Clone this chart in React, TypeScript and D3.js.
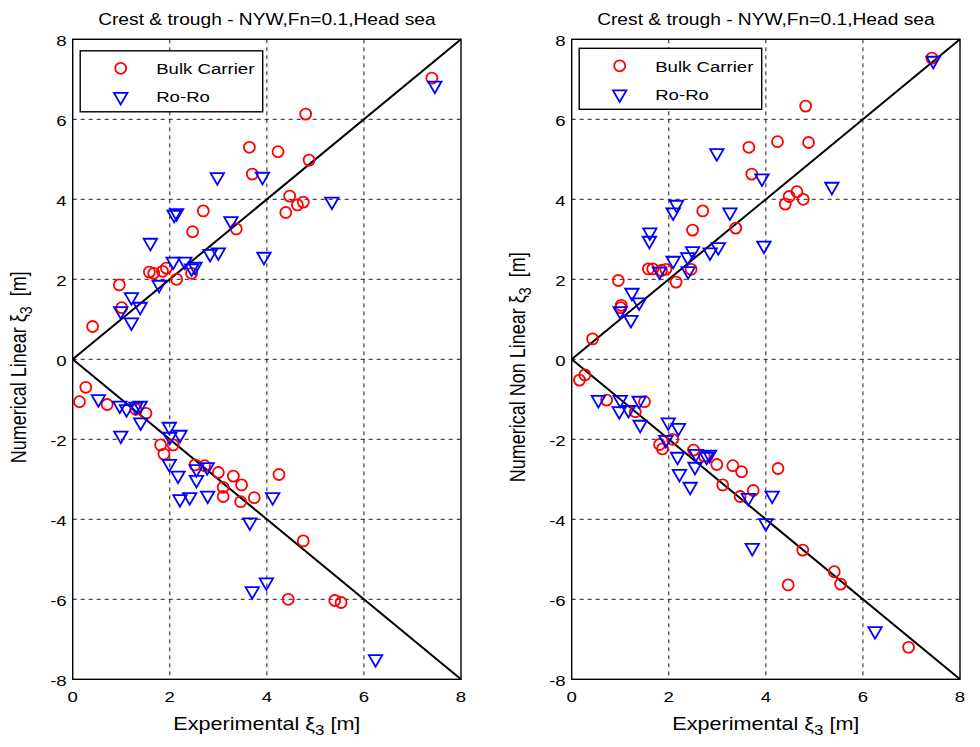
import React from 'react';
import * as d3 from 'd3';

const bulkLinear: [number, number][] = [
  [0.41, 0.82], [0.96, 1.86], [1.01, 1.29], [1.58, 2.18], [1.67, 2.15], [1.85, 2.2], [1.93, 2.28],
  [2.14, 2.0], [2.45, 2.15], [2.47, 3.19], [2.69, 3.71], [3.37, 3.26], [3.64, 5.3], [3.7, 4.63],
  [4.23, 5.19], [4.39, 3.67], [4.47, 4.08], [4.63, 3.86], [4.75, 3.93], [4.8, 6.13], [4.87, 4.98],
  [7.4, 7.03],
  [0.14, -1.06], [0.27, -0.7], [0.71, -1.13], [1.3, -1.25], [1.51, -1.35], [1.81, -2.14], [1.88, -2.37],
  [2.07, -2.14], [2.52, -2.64], [2.72, -2.66], [3.0, -2.83], [3.1, -3.2], [3.1, -3.43], [3.31, -2.92],
  [3.48, -3.14], [3.46, -3.56], [3.74, -3.46], [4.25, -2.88], [4.75, -4.54], [4.44, -6.0], [5.4, -6.03],
  [5.53, -6.08],
];

const roroLinear: [number, number][] = [
  [0.99, 1.22], [1.21, 1.57], [1.21, 0.94], [1.39, 1.33], [1.6, 2.93], [1.78, 1.88], [2.07, 2.46],
  [2.09, 3.63], [2.14, 3.67], [2.31, 2.46], [2.45, 2.29], [2.52, 2.33], [2.83, 2.65], [3.0, 2.69],
  [2.98, 4.57], [3.26, 3.47], [3.91, 4.58], [3.94, 2.58], [5.34, 3.96], [7.46, 6.86],
  [0.53, -0.98], [0.97, -1.14], [1.11, -1.23], [1.39, -1.14], [1.3, -1.17], [1.4, -1.56], [0.99, -1.89],
  [1.99, -1.67], [2.0, -1.92], [2.21, -1.87], [1.99, -2.6], [2.17, -2.89], [2.21, -3.48], [2.41, -3.43],
  [2.55, -3.0], [2.55, -2.73], [2.77, -2.68], [2.78, -3.39], [3.65, -4.06], [4.12, -3.43], [3.7, -5.78],
  [3.99, -5.56], [6.24, -7.48],
];

const bulkNonLinear: [number, number][] = [
  [0.43, 0.51], [0.96, 1.97], [1.02, 1.35], [1.01, 1.29], [1.58, 2.26], [1.67, 2.26], [1.85, 2.22],
  [1.94, 2.25], [2.15, 1.93], [2.46, 2.25], [2.49, 3.23], [2.7, 3.71], [3.38, 3.28], [3.65, 5.3],
  [3.71, 4.63], [4.24, 5.44], [4.4, 3.88], [4.48, 4.07], [4.64, 4.19], [4.77, 4.0], [4.82, 6.33],
  [4.88, 5.42], [7.42, 7.53],
  [0.16, -0.52], [0.27, -0.39], [0.72, -1.02], [1.31, -1.31], [1.5, -1.06], [1.81, -2.13], [1.87, -2.24],
  [2.08, -2.0], [2.51, -2.27], [2.73, -2.42], [2.99, -2.63], [3.32, -2.66], [3.5, -2.81], [3.11, -3.14],
  [3.47, -3.43], [3.74, -3.28], [4.25, -2.73], [4.76, -4.77], [4.46, -5.64], [5.41, -5.31], [5.54, -5.62],
  [6.94, -7.2],
];

const roroNonLinear: [number, number][] = [
  [1.0, 1.22], [1.24, 1.68], [1.22, 1.0], [1.39, 1.44], [1.61, 3.19], [1.6, 2.98], [1.81, 2.21],
  [2.09, 2.48], [2.16, 3.88], [2.09, 3.69], [2.39, 2.57], [2.4, 2.22], [2.49, 2.72], [2.85, 2.69],
  [3.02, 2.82], [2.99, 5.17], [3.26, 3.69], [3.92, 4.54], [3.96, 2.86], [5.36, 4.33], [7.45, 7.48],
  [0.55, -1.0], [1.0, -1.0], [0.98, -1.28], [1.17, -1.25], [1.39, -1.02], [1.41, -1.62], [1.99, -1.56],
  [2.2, -1.7], [1.94, -2.0], [2.18, -2.42], [2.22, -2.85], [2.44, -3.17], [2.54, -2.67], [2.56, -2.35],
  [2.78, -2.42], [2.84, -2.37], [3.64, -3.45], [4.13, -3.39], [4.0, -4.08], [3.72, -4.7], [6.25, -6.78],
];

const xTicks = [0, 2, 4, 6, 8];
const yTicks = [-8, -6, -4, -2, 0, 2, 4, 6, 8];
const refLines: [number, number][][] = [
  [[0, 0], [8, 8]],
  [[0, 0], [8, -8]],
];
const seriesNames = ['Bulk Carrier', 'Ro-Ro'];
const titleText = 'Crest & trough - NYW,Fn=0.1,Head sea';

const FONT = '"Liberation Sans", Arial, Helvetica, sans-serif';
const SX = 1.2; // the source figure is stretched horizontally, text included
const tri = d3.symbol(d3.symbolTriangle, 78)() as string;

const Circle = ({ x, y }: { x: number; y: number }) => (
  <circle cx={x} cy={y} r={5.5} fill="none" stroke="#ff0000" strokeWidth={1.8} />
);

const Tri = ({ x, y }: { x: number; y: number }) => (
  <path d={tri} transform={`translate(${x},${y + 0.5}) rotate(180)`} fill="none" stroke="#0000ff" strokeWidth={1.8} />
);

interface PanelProps {
  left: number;
  right: number;
  top: number;
  bottom: number;
  bulk: [number, number][];
  roro: [number, number][];
  yLabel: string;
  legendDy: number;
}

const Panel: React.FC<PanelProps> = ({ left, right, top, bottom, bulk, roro, yLabel, legendDy }) => {
  const x = d3.scaleLinear().domain([0, 8]).range([left, right]);
  const y = d3.scaleLinear().domain([-8, 8]).range([bottom, top]);
  const line = d3.line<[number, number]>().x((d) => x(d[0])).y((d) => y(d[1]));
  const cx = (left + right) / 2;
  const lx = left + 7.5;
  const ly = top + legendDy;

  return (
    <g fontFamily={FONT} fill="#000">
      <text transform={`translate(${cx},${top - 14}) scale(${SX},1)`} textAnchor="middle" fontSize={16}>
        {titleText}
      </text>

      {/* grid */}
      {xTicks.slice(1, -1).map((t) => (
        <line key={`gx${t}`} x1={x(t)} x2={x(t)} y1={top} y2={bottom} stroke="#000" strokeWidth={0.9} strokeDasharray="4,4" />
      ))}
      {yTicks.slice(1, -1).map((t) => (
        <line key={`gy${t}`} x1={left} x2={right} y1={y(t)} y2={y(t)} stroke="#000" strokeWidth={0.9} strokeDasharray="4,4" />
      ))}

      {/* diagonal reference lines */}
      {refLines.map((l, i) => (
        <path key={i} d={line(l) || ''} stroke="#000" strokeWidth={2} fill="none" />
      ))}

      {bulk.map((d, i) => (
        <Circle key={`b${i}`} x={x(d[0])} y={y(d[1])} />
      ))}
      {roro.map((d, i) => (
        <Tri key={`r${i}`} x={x(d[0])} y={y(d[1])} />
      ))}

      <rect x={left} y={top} width={right - left} height={bottom - top} fill="none" stroke="#000" strokeWidth={1.4} />

      {/* tick labels */}
      {xTicks.map((t) => (
        <text key={`tx${t}`} transform={`translate(${x(t)},${bottom + 23}) scale(${SX},1)`} textAnchor="middle" fontSize={15.5}>
          {t}
        </text>
      ))}
      {yTicks.map((t) => (
        <text key={`ty${t}`} transform={`translate(${left - 6},${y(t) + 6.5}) scale(${SX},1)`} textAnchor="end" fontSize={15.5}>
          {t}
        </text>
      ))}

      {/* axis labels */}
      <text transform={`translate(${cx},${bottom + 51}) scale(${SX},1)`} textAnchor="middle" fontSize={18}>
        Experimental ξ<tspan fontSize={14} dy={5}>3</tspan>
        <tspan dy={-5}> [m]</tspan>
      </text>
      <text
        transform={`translate(${left - 47},${(top + bottom) / 2 + 8}) scale(${SX},1) rotate(-90)`}
        textAnchor="middle"
        fontSize={18}
      >
        {yLabel} ξ<tspan fontSize={14} dy={5}>3</tspan>
        <tspan dy={-5}>{'\u00a0 [m]'}</tspan>
      </text>

      {/* legend */}
      <rect x={lx} y={ly} width={182.5} height={61} fill="#fff" stroke="#000" strokeWidth={1.4} />
      <Circle x={lx + 40.5} y={ly + 17.5} />
      <text transform={`translate(${lx + 76},${ly + 23.5}) scale(${SX},1)`} fontSize={15.5}>
        {seriesNames[0]}
      </text>
      <Tri x={lx + 40.5} y={ly + 45.5} />
      <text transform={`translate(${lx + 76},${ly + 51.5}) scale(${SX},1)`} fontSize={15.5}>
        {seriesNames[1]}
      </text>
    </g>
  );
};

export default function App() {
  return (
    <svg width={980} height={747} style={{ position: 'absolute', left: 0, top: 0, background: '#fff' }}>
      <rect width={980} height={747} fill="#fff" />
      <Panel left={72.7} right={461} top={39.3} bottom={679.3} bulk={bulkLinear} roro={roroLinear} yLabel="Numerical Linear" legendDy={11.5} />
      <Panel left={571.7} right={960} top={39.3} bottom={679.3} bulk={bulkNonLinear} roro={roroNonLinear} yLabel="Numerical Non Linear" legendDy={9} />
    </svg>
  );
}
